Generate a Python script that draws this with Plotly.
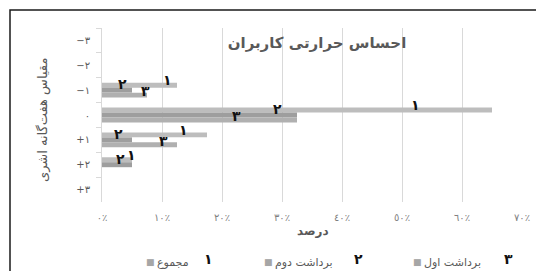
import plotly.graph_objects as go

# ---- data ----
categories = ["−۳", "−۲", "−۱", "۰", "+۱", "+۲", "+۳"]
total_pct = [0, 0, 12.5, 65, 17.5, 5, 0]      # مجموع
second_pct = [0, 0, 5, 32.5, 5, 5, 0]         # برداشت دوم
first_pct = [0, 0, 7.5, 32.5, 12.5, 0, 0]     # برداشت اول
series_names = ["مجموع", "برداشت دوم", "برداشت اول"]
series_tags = ["۱", "۲", "۳"]
x_tick_vals = [0, 10, 20, 30, 40, 50, 60, 70]
x_tick_text = ["٠٪", "١٠٪", "٢٠٪", "٣٠٪", "٤٠٪", "٥٠٪", "٦٠٪", "٧٠٪"]

# ---- style ----
OFF = 8  # page body margin
W, H = 544 - OFF, 271 - OFF
ML, MR, MT, MB = 102 - OFF, 22, 28 - OFF, 69
PW, PH = W - ML - MR, H - MT - MB
colors = ["#bdbdbd", "#9e9e9e", "#b0b0b0"]
font_fam = "DejaVu Sans"
# manual label nudges (px), like dragged data labels
label_xshift = [
    {2: -10, 3: -77, 4: -24, 5: -1},
    {2: -10, 3: -20, 4: -14, 5: -12},
    {2: -2, 3: -61, 4: -14},
]
label_yshift = [10, 6, -1]


def px_x(p):
    return (p - OFF - ML) / PW


def px_y(p):
    return 1 - (p - OFF - MT) / PH


fig = go.Figure()
all_series = [total_pct, second_pct, first_pct]
for i, vals in enumerate(all_series):
    fig.add_trace(go.Bar(
        y=categories, x=vals, orientation="h", name=series_names[i],
        marker=dict(color=colors[i], line=dict(width=0)),
        hoverinfo="skip", showlegend=False,
    ))
    for j, v in enumerate(vals):
        if v > 0:
            fig.add_annotation(
                x=v, y=categories[j], xref="x", yref="y",
                text="<b>%s</b>" % series_tags[i], showarrow=False,
                xanchor="center", yanchor="middle",
                xshift=label_xshift[i].get(j, 0), yshift=label_yshift[i],
                font=dict(family=font_fam, size=14, color="#111111"),
            )

# legend (swatch + name + bold tag)
legend_swatch_px = [150, 268, 417]
legend_text_px = [155, 273, 422]
tag_px = [208, 358, 508]
leg_y = px_y(262)
for k in range(3):
    fig.add_annotation(x=px_x(legend_swatch_px[k]), y=leg_y, xref="paper", yref="paper",
                       text="■", showarrow=False, xanchor="center", yanchor="middle",
                       font=dict(family=font_fam, size=9, color="#a6a6a6"))
    fig.add_annotation(x=px_x(legend_text_px[k]), y=leg_y, xref="paper", yref="paper",
                       text=series_names[k], showarrow=False, xanchor="left", yanchor="middle",
                       font=dict(family=font_fam, size=11, color="#595959"))
    fig.add_annotation(x=px_x(tag_px[k]), y=px_y(259), xref="paper", yref="paper",
                       text="<b>%s</b>" % series_tags[k], showarrow=False,
                       xanchor="center", yanchor="middle",
                       font=dict(family=font_fam, size=14, color="#111111"))

fig.update_layout(
    width=W, height=H,
    margin=dict(l=ML, r=MR, t=MT, b=MB, pad=0),
    paper_bgcolor="white", plot_bgcolor="white",
    barmode="group", bargap=0.4, bargroupgap=0,
    showlegend=False,
    title=dict(text="<b>احساس حرارتی کاربران</b>", xref="container", yref="container",
               x=(317 - OFF) / W, y=1 - (43 - OFF) / H, xanchor="center", yanchor="middle",
               font=dict(family=font_fam, size=15, color="#595959")),
    xaxis=dict(range=[0, 70], tickvals=x_tick_vals, ticktext=x_tick_text,
               showgrid=True, gridcolor="#d9d9d9", gridwidth=1, zeroline=False,
               showline=False, ticks="", ticklabelstandoff=8,
               tickfont=dict(family=font_fam, size=10, color="#7f7f7f")),
    yaxis=dict(type="category", categoryorder="array", categoryarray=categories,
               autorange="reversed", showgrid=False, zeroline=False,
               showline=True, linecolor="#d9d9d9", linewidth=1,
               ticks="outside", ticklen=5, tickcolor="#d9d9d9", tickson="boundaries",
               ticklabelstandoff=9,
               tickfont=dict(family=font_fam, size=10, color="#595959")),
)

# y axis title
fig.add_annotation(x=px_x(33), y=px_y(120), xref="paper", yref="paper",
                   text="مقیاس هفت‌گانه اشری", textangle=-90, showarrow=False,
                   font=dict(family=font_fam, size=13, color="#595959"))
# x axis title
fig.add_annotation(x=px_x(313), y=px_y(240), xref="paper", yref="paper",
                   text="<b>درصد</b>", showarrow=False,
                   font=dict(family=font_fam, size=12, color="#595959"))

# outer chart frame
fig.add_shape(type="rect", xref="paper", yref="paper",
              x0=px_x(10), y0=px_y(300), x1=px_x(560), y1=px_y(10),
              line=dict(color="#1a1a1a", width=1.5), fillcolor="rgba(0,0,0,0)", layer="below")

fig.write_html("out.html")
